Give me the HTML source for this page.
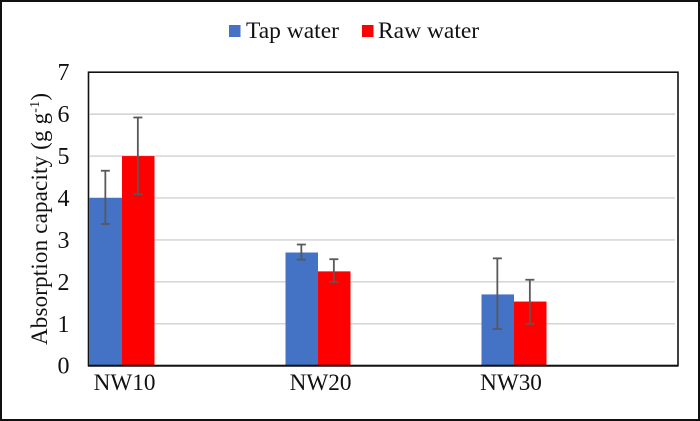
<!DOCTYPE html>
<html>
<head>
<meta charset="utf-8">
<title>Absorption capacity chart</title>
<style>
html,body{margin:0;padding:0;background:#fff;}
svg{display:block;font-family:"Liberation Serif",serif;}
text{fill:#111;}
</style>
</head>
<body>
<svg id="chart" xmlns="http://www.w3.org/2000/svg" width="700" height="421" viewBox="0 0 700 421">
  <rect x="1" y="1" width="698" height="419" fill="#fff" stroke="#111" stroke-width="2"/>
  <g id="grid"></g>
  <g id="bars"></g>
  <rect x="88.5" y="72.2" width="589.5" height="293.5" fill="none" stroke="#111" stroke-width="1.6"/>
  <line x1="88" x2="678" y1="365.7" y2="365.7" stroke="#111" stroke-width="2"/>
  <g id="errors"></g>
  <g id="yticks"></g>
  <g id="xticks"></g>
  <text transform="translate(47,345) rotate(-90)" font-size="23" textLength="252" lengthAdjust="spacing">Absorption capacity (g g<tspan font-size="14" dy="-8">-1</tspan><tspan dy="8">)</tspan></text>
  <g>
    <rect x="229" y="25" width="11.5" height="12" fill="#4472c4"/>
    <text x="246" y="38" font-size="23.5">Tap water</text>
    <rect x="362" y="25" width="11.5" height="12" fill="#ff0000"/>
    <text x="378" y="38" font-size="23.5">Raw water</text>
  </g>
</svg>
<script>
const categories = ["NW10", "NW20", "NW30"];
const tapValues = [4, 2.7, 1.7];
const rawValues = [5, 2.25, 1.53];
const tapErrorHigh = [4.65, 2.89, 2.56];
const tapErrorLow = [3.38, 2.53, 0.875];
const rawErrorHigh = [5.92, 2.54, 2.05];
const rawErrorLow = [4.09, 2.0, 1.0];
const yTickLabels = [0, 1, 2, 3, 4, 5, 6, 7];

const NS = "http://www.w3.org/2000/svg";
function yScale(v) { return 365.7 - v * (293.5 / 7); }
function xCenter(i) { return 122 + i * 196; }
function labelX(i) { return i === 2 ? xCenter(i) - 3 : xCenter(i) + 2.6; }
const BAR_W = 32.5;

function make(tag, attrs, parent, text) {
  const el = document.createElementNS(NS, tag);
  for (const k in attrs) el.setAttribute(k, attrs[k]);
  if (text !== undefined) el.textContent = text;
  parent.appendChild(el);
  return el;
}

const grid = document.getElementById("grid");
const yticks = document.getElementById("yticks");
yTickLabels.forEach(function (t) {
  if (t > 0 && t < 7) {
    const ln = make("line", { x1: 90, x2: 675, y1: yScale(t), y2: yScale(t), stroke: "#d0d0d0", "stroke-width": 1.4 }, grid);
    
    
  }
  const lb = make("text", { x: 63.5, y: yScale(t) + 8, "text-anchor": "middle", "font-size": 24 }, yticks, String(t));
  
  
});

const bars = document.getElementById("bars");
const errors = document.getElementById("errors");

function drawError(cx, hi, lo) {
  const attrs = { stroke: "#595959", "stroke-width": 1.8 };
  const a = make("line", Object.assign({ x1: cx, x2: cx, y1: yScale(hi), y2: yScale(lo) }, attrs), errors);
  
  
  const b = make("line", Object.assign({ x1: cx - 4.5, x2: cx + 4.5, y1: yScale(hi), y2: yScale(hi) }, attrs), errors);
  
  
  const c = make("line", Object.assign({ x1: cx - 4.5, x2: cx + 4.5, y1: yScale(lo), y2: yScale(lo) }, attrs), errors);
  
  
}

categories.forEach(function (cat, i) {
  const cx = xCenter(i);
  const t = make("rect", { x: cx - BAR_W, y: yScale(tapValues[i]), width: BAR_W, height: yScale(0) - yScale(tapValues[i]), fill: "#4472c4" }, bars);
  
  
  const r = make("rect", { x: cx, y: yScale(rawValues[i]), width: BAR_W, height: yScale(0) - yScale(rawValues[i]), fill: "#ff0000" }, bars);
  
  
  drawError(cx - BAR_W / 2 - 0.4, tapErrorHigh[i], tapErrorLow[i]);
  drawError(cx + BAR_W / 2 - 0.4, rawErrorHigh[i], rawErrorLow[i]);
  const lb = make("text", { x: labelX(i), y: 390, "text-anchor": "middle", "font-size": 23.2 }, document.getElementById("xticks"), cat);
  
  
});
</script>
</body>
</html>
